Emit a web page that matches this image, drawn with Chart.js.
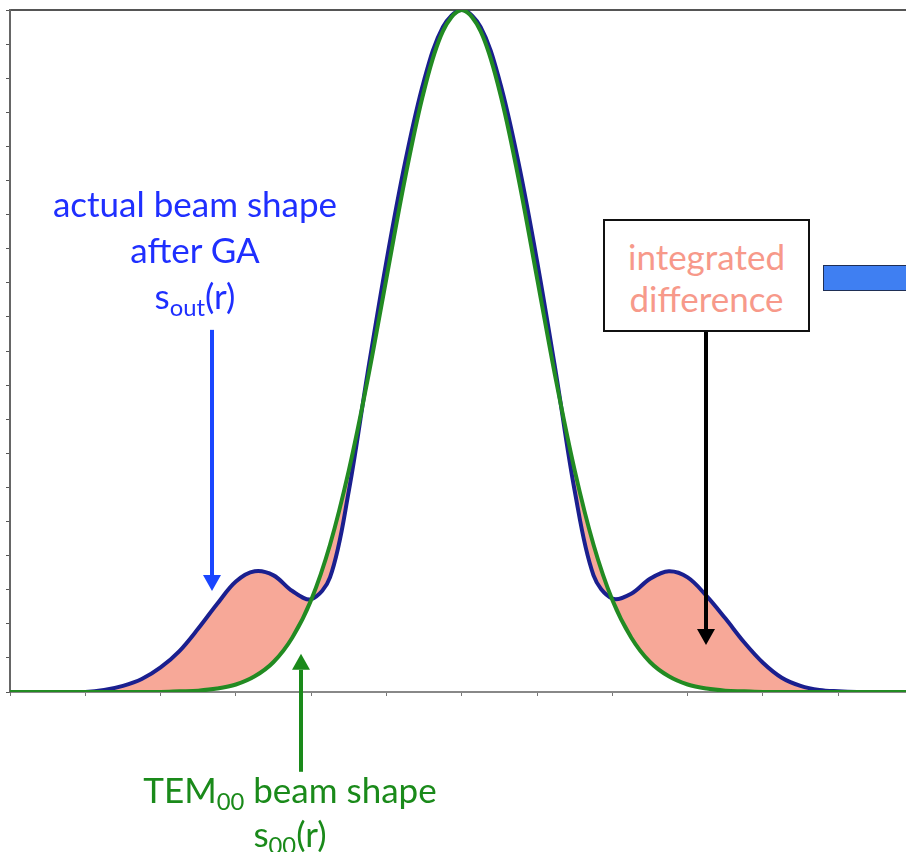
<!DOCTYPE html>
<html>
<head>
<meta charset="utf-8">
<script src="https://cdn.jsdelivr.net/npm/chart.js@4"></script>
<style>
  html, body { margin: 0; padding: 0; background: #fff; overflow: hidden; }
  #wrap { position: relative; width: 906px; height: 852px; }
  .label { position: absolute; font-family: Lato, "Open Sans", sans-serif; font-size: 35px; text-align: center; white-space: nowrap; }
  .label sub { font-size: 0.68em; vertical-align: -0.3em; line-height: 0; }
  #blueLabel { left: 45px; top: 180px; width: 300px; line-height: 46px; color: #1f2fff; }
  #greenLabel { left: 140px; top: 767px; width: 300px; line-height: 44px; color: #1a8a1a; }
  #diffBox { left: 603px; top: 219px; width: 203px; border: 2px solid #111; background: #fff;
             line-height: 42px; color: #f7998a; padding-top: 14px; box-sizing: content-box; height: 95px; }
  #sideBar { position: absolute; left: 823px; top: 265px; width: 100px; height: 24px; background: #3f7ff2; border: 1.5px solid #1f2f55; }
</style>
</head>
<body>
<div id="wrap">
  <canvas id="beamChart"></canvas>
  <div class="label" id="blueLabel">actual beam shape<br>after GA<br>s<sub>out</sub>(r)</div>
  <div class="label" id="greenLabel">TEM<sub>00</sub> beam shape<br>s<sub>00</sub>(r)</div>
  <div class="label" id="diffBox">integrated<br>difference</div>
  <div id="sideBar"></div>
</div>
<script>
// radial position (tick units) and beam profiles
const radius = [
    -6, -5.75, -5.5, -5.25, -5, -4.75, -4.5, -4.25, -4, -3.75, -3.5, -3.25, -3,
    -2.75, -2.5, -2.25, -2, -1.75, -1.5, -1.25, -1, -0.75, -0.5, -0.25, 0,
    0.25, 0.5, 0.75, 1, 1.25, 1.5, 1.75, 2, 2.25, 2.5, 2.75, 3,
    3.25, 3.5, 3.75, 4, 4.25, 4.5, 4.75, 5, 5.25, 5.5, 5.75, 6,
];
const tem00 = [
    0, 0, 0, 0, 0, 0, 0, 0, 0, 0.001, 0.002, 0.005, 0.011,
    0.023, 0.044, 0.080, 0.135, 0.216, 0.325, 0.458, 0.607, 0.755, 0.882, 0.969, 1.0,
    0.969, 0.882, 0.755, 0.607, 0.458, 0.325, 0.216, 0.135, 0.080, 0.044, 0.023, 0.011,
    0.005, 0.002, 0.001, 0, 0, 0, 0, 0, 0, 0, 0, 0,
];
const actualGA = [
    0, 0, 0, 0, 0, 0.003, 0.009, 0.019, 0.036, 0.060, 0.093, 0.129, 0.162,
    0.177, 0.171, 0.148, 0.136, 0.168, 0.295, 0.468, 0.632, 0.778, 0.897, 0.975, 1.0,
    0.975, 0.897, 0.778, 0.632, 0.468, 0.295, 0.171, 0.137, 0.144, 0.166, 0.177, 0.168,
    0.141, 0.108, 0.073, 0.043, 0.021, 0.009, 0.003, 0.001, 0, 0, 0, 0,
];
const yTicks = [0, 0.05, 0.1, 0.15, 0.2, 0.25, 0.3, 0.35, 0.4, 0.45, 0.5, 0.55, 0.6, 0.65, 0.7, 0.75, 0.8, 0.85, 0.9, 0.95, 1];

// arrows: x position, tail and tip in data units
const arrows = [
    { x: -3.32, from: 0.531, to: 0.148, color: '#1a46ff' },
    { x: -2.14, from: -0.117, to: 0.056, color: '#1a8a1a' },
    { x: 3.24, from: 0.529, to: 0.069, color: '#000000' },
];

const arrowPlugin = {
    id: 'arrows',
    afterDatasetsDraw(chart) {
        const { ctx, scales: { x, y } } = chart;
        ctx.save();
        arrows.forEach((a) => {
            const px = Math.round(x.getPixelForValue(a.x));
            const y0 = y.getPixelForValue(a.from);
            const y1 = y.getPixelForValue(a.to);
            const dir = y1 > y0 ? 1 : -1;
            const headLen = 16;
            ctx.strokeStyle = a.color;
            ctx.fillStyle = a.color;
            ctx.lineWidth = 4;
            ctx.beginPath();
            ctx.moveTo(px, y0);
            ctx.lineTo(px, y1 - dir * headLen);
            ctx.stroke();
            ctx.beginPath();
            ctx.moveTo(px - 9, y1 - dir * headLen);
            ctx.lineTo(px + 9, y1 - dir * headLen);
            ctx.lineTo(px, y1);
            ctx.closePath();
            ctx.fill();
        });
        ctx.restore();
    },
};

const ctx = document.getElementById('beamChart');
new Chart(ctx, {
    type: 'line',
    data: {
        datasets: [{
            label: 'TEM00 beam shape',
            data: radius.map((r, i) => ({ x: r, y: tem00[i] })),
            borderColor: '#228b22',
            borderWidth: 4,
            pointRadius: 0,
            tension: 0.35,
            fill: false,
        }, {
            label: 'actual beam shape after GA',
            data: radius.map((r, i) => ({ x: r, y: actualGA[i] })),
            borderColor: '#1a1f8f',
            borderWidth: 4,
            pointRadius: 0,
            tension: 0.35,
            fill: { target: 0, above: '#f7a898', below: '#f7a898' },
        }],
    },
    options: {
        responsive: true,
        maintainAspectRatio: false,
        animation: false,
        layout: { padding: { left: 6, top: 10, right: 0, bottom: 156 } },
        plugins: {
            legend: { display: false },
            tooltip: { enabled: false },
        },
        scales: {
            x: {
                type: 'linear',
                min: -6,
                max: 5.9,
                ticks: { display: false, stepSize: 1 },
                grid: { drawOnChartArea: false, drawTicks: true, tickLength: 4, color: '#777', lineWidth: 1 },
                border: { color: '#888', width: 2 },
            },
            x2: {
                type: 'linear',
                position: 'top',
                min: -6,
                max: 5.9,
                ticks: { display: false },
                grid: { drawOnChartArea: false, drawTicks: false },
                border: { color: '#555', width: 2 },
            },
            y: {
                min: 0,
                max: 1,
                afterBuildTicks: (scale) => { scale.ticks = yTicks.map((v) => ({ value: v })); },
                ticks: { display: false },
                grid: { drawOnChartArea: false, drawTicks: true, tickLength: 4, color: '#555', lineWidth: 1 },
                border: { color: '#666', width: 2 },
            },
        },
    },
    plugins: [arrowPlugin],
});
</script>
</body>
</html>
